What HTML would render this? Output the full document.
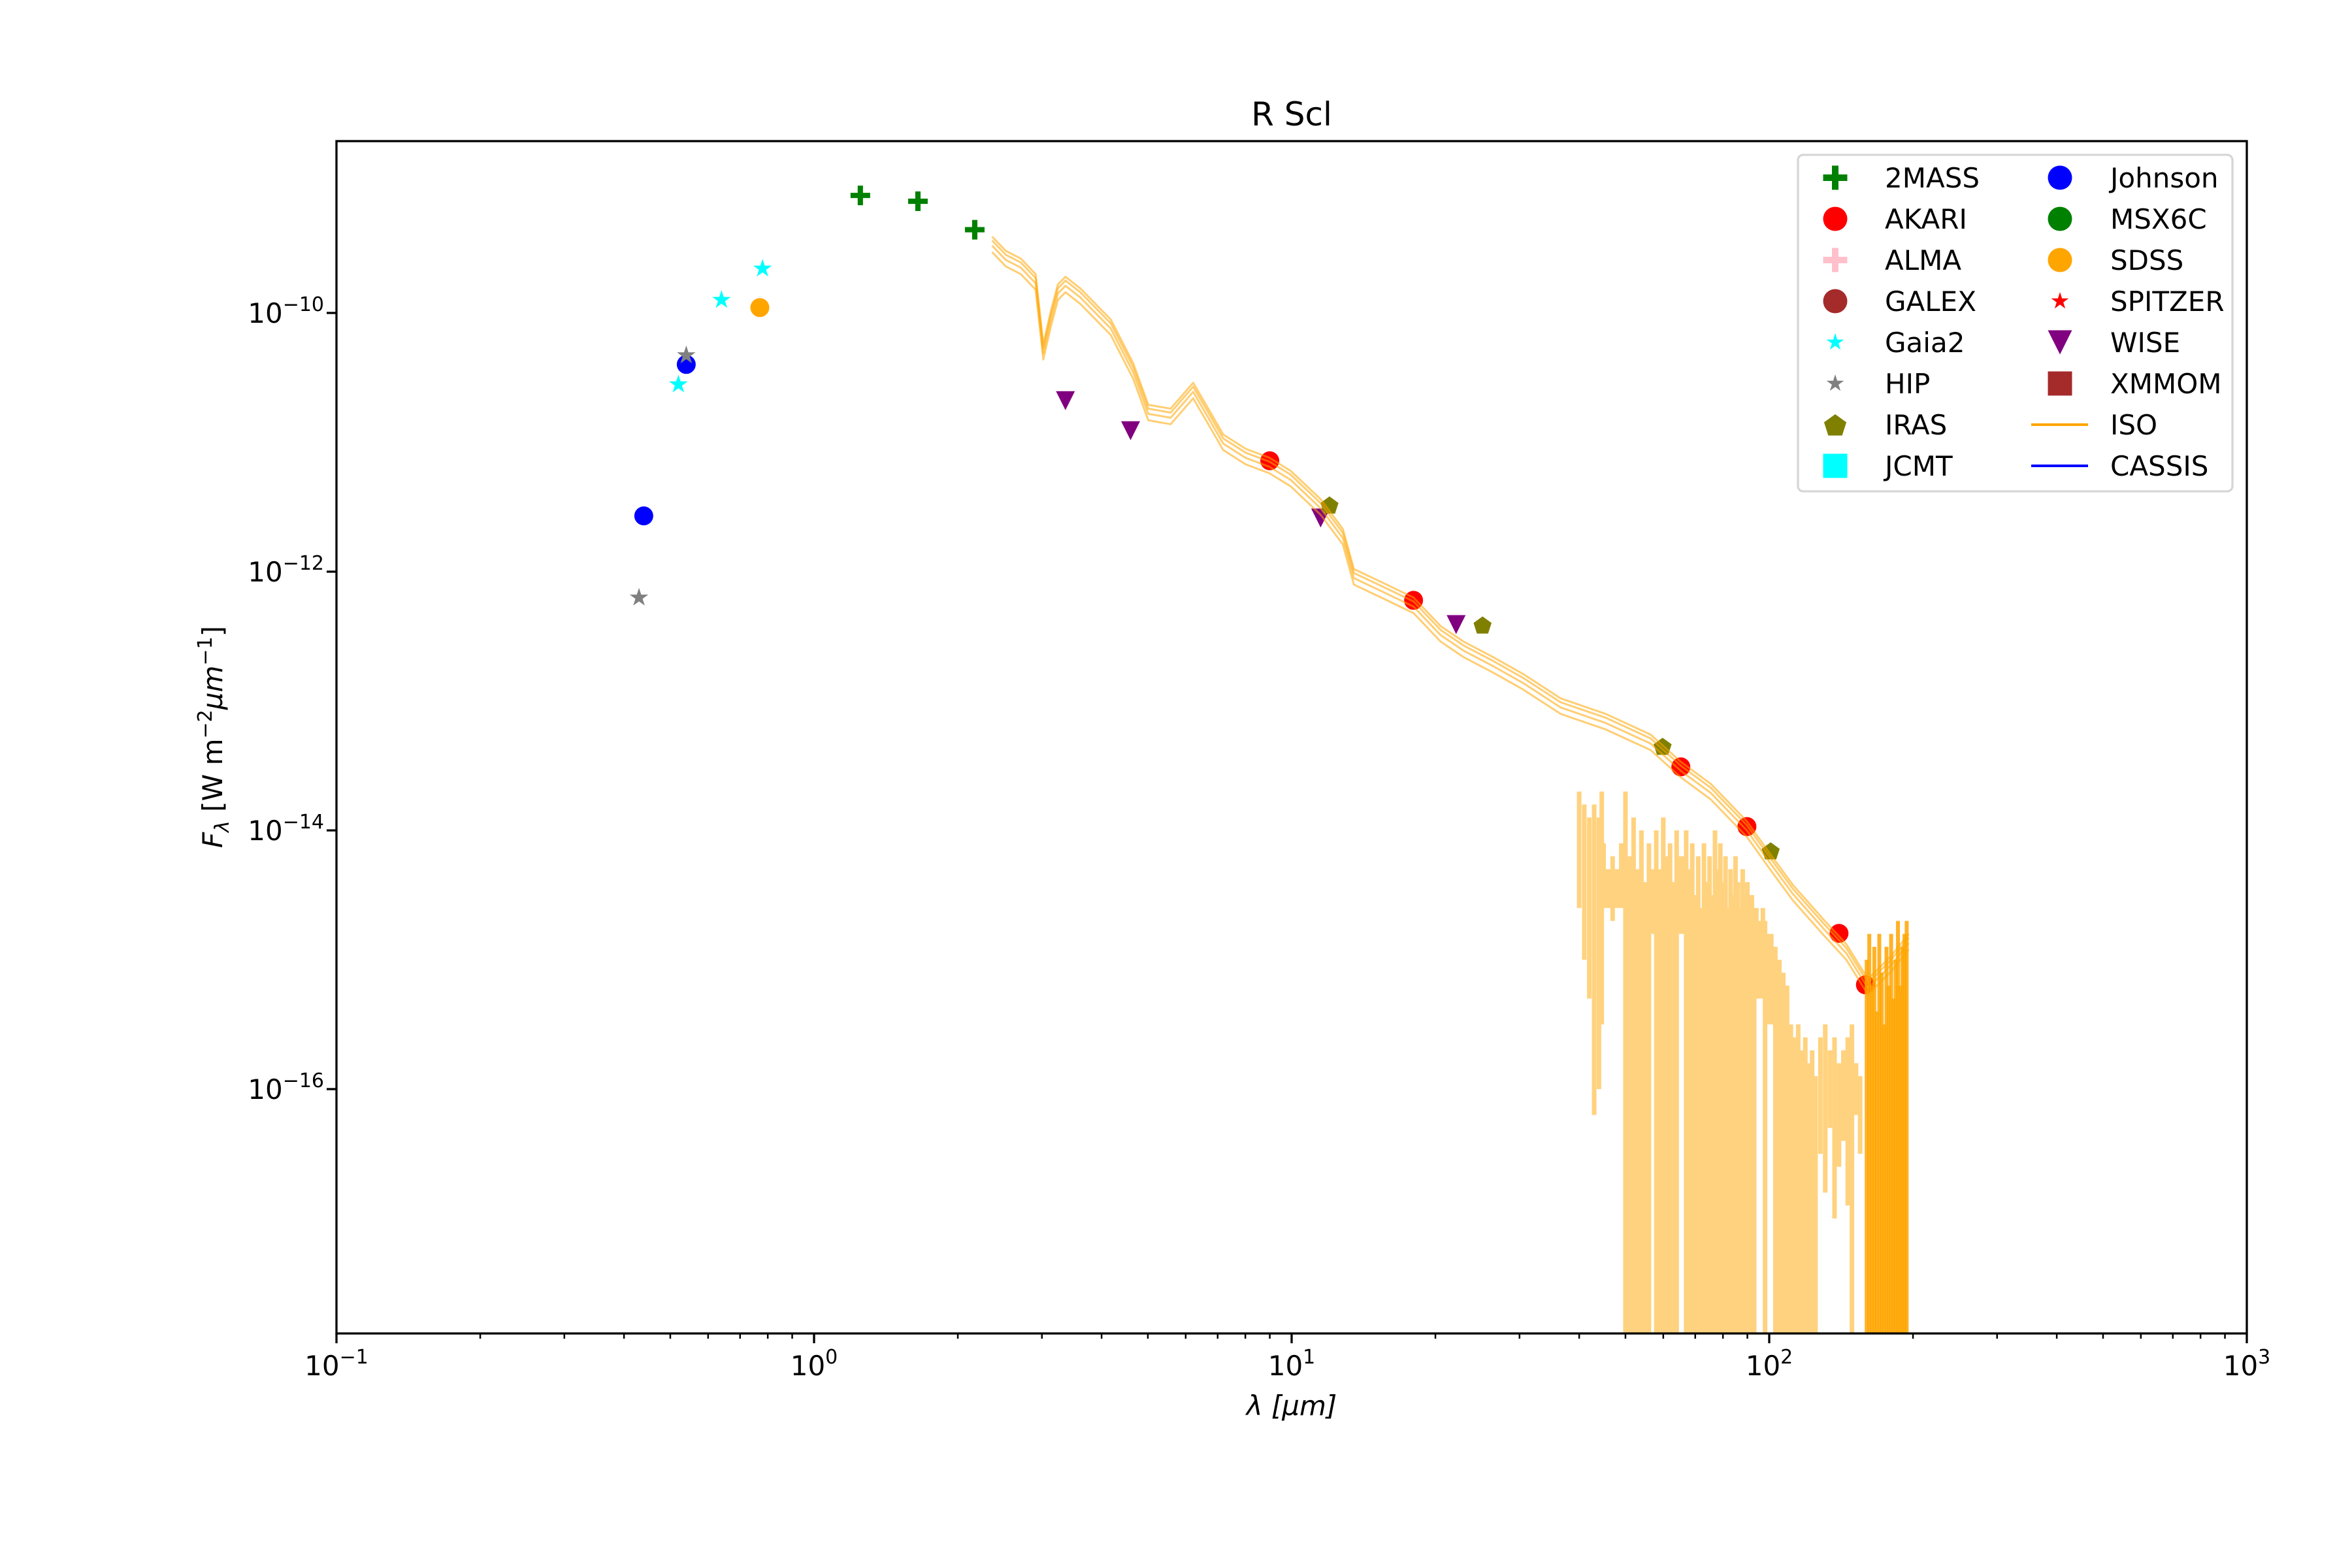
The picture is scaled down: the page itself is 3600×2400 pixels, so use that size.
<!DOCTYPE html>
<html><head><meta charset="utf-8"><style>
html,body{margin:0;padding:0;background:#fff;}
svg{display:block;font-family:"DejaVu Sans","Liberation Sans",sans-serif;}
</style></head><body>
<svg id="chart" width="3600" height="2400" viewBox="0 0 3600 2400" xmlns="http://www.w3.org/2000/svg">
<rect x="0" y="0" width="3600" height="2400" fill="#fff"/>
<g id="plot"></g>
<g id="axes"></g>
<text x="1977" y="192" font-size="50" text-anchor="middle">R Scl</text>
<text x="1977" y="2166" font-size="42" text-anchor="middle" font-style="italic">λ [μm]</text>
<text transform="translate(340,1128) rotate(-90)" font-size="42" text-anchor="middle"><tspan font-style="italic">F</tspan><tspan font-style="italic" font-size="30" dy="10">λ</tspan><tspan dy="-10"> [W m</tspan><tspan font-size="30" dy="-16">−2</tspan><tspan font-style="italic" dy="16">μm</tspan><tspan font-size="30" dy="-16">−1</tspan><tspan dy="16">]</tspan></text>
<g id="legend"></g>
</svg>
<script>
// ---- data ----
const twomassLam = [1.25, 1.65, 2.17];
const twomassFlux = [8.1e-10, 7.3e-10, 4.4e-10];
const johnsonLam = [0.44, 0.54];
const johnsonFlux = [2.7e-12, 4.0e-11];
const hipLam = [0.43, 0.54];
const hipFlux = [6.3e-13, 4.7e-11];
const gaiaLam = [0.52, 0.64, 0.78];
const gaiaFlux = [2.8e-11, 1.26e-10, 2.2e-10];
const sdssLam = [0.77];
const sdssFlux = [1.1e-10];
const wiseLam = [3.36, 4.6, 11.5, 22.1];
const wiseFlux = [2.1e-11, 1.23e-11, 2.6e-12, 3.9e-13];
const akariLam = [9.0, 18.0, 65.3, 89.8, 140, 159];
const akariFlux = [7.2e-12, 6.0e-13, 3.1e-14, 1.07e-14, 1.6e-15, 6.4e-16];
const irasLam = [12.0, 25.1, 59.8, 100.7];
const irasFlux = [3.3e-12, 3.9e-13, 4.5e-14, 7.0e-15];

const isoLam = [2.36,2.52,2.71,2.91,3.02,3.13,3.24,3.36,3.61,4.18,4.66,5.01,5.58,6.22,6.69,7.19,8.01,8.99,9.95,11.5,12.8,13.5,15.4,18.0,20.5,22.9,26.4,30.5,36.6,45.5,56.5,65.3,75.4,89.8,100.8,112,130,145,161,180,196];
const isoLogFlux = [-9.44,-9.55,-9.61,-9.73,-10.27,-10.02,-9.81,-9.75,-9.84,-10.08,-10.42,-10.74,-10.77,-10.57,-10.77,-10.97,-11.08,-11.15,-11.25,-11.47,-11.70,-12.01,-12.11,-12.23,-12.45,-12.57,-12.69,-12.82,-13.01,-13.13,-13.29,-13.50,-13.67,-13.96,-14.22,-14.45,-14.72,-14.91,-15.18,-15.00,-14.83];
const isoOffsets = [0.0, -0.04, -0.09, 0.03];

const spikeLam = [40,41,42,43,44,44.6,45,46,47,48,49,50,51,52,53,54,55,56,57,58,59,60,61,62,63,64,65,66,67,68,69,70,71,72,73,74,75,76,77,78,79,80,81,82,83,84,85,86,87,88,89,90,91,92,93,94,95,96,97,98,99,100,101,102,103,105,107,109,111,113,115,117,119,121,123,125,128,131,134,137,140,143,146,149,152,155];
const spikeTop = [-13.7,-13.8,-13.9,-13.8,-13.9,-13.7,-14.1,-14.3,-14.2,-14.3,-14.1,-13.7,-14.2,-13.9,-14.3,-14.0,-14.4,-14.1,-14.3,-14.0,-14.3,-13.9,-14.2,-14.1,-14.4,-14.0,-14.2,-14.2,-14.0,-14.3,-14.1,-14.5,-14.2,-14.6,-14.1,-14.4,-14.2,-14.5,-14.0,-14.3,-14.1,-14.4,-14.2,-14.6,-14.3,-14.5,-14.2,-14.4,-14.6,-14.3,-14.5,-14.4,-14.7,-14.5,-14.6,-14.6,-14.8,-14.7,-14.6,-14.7,-14.8,-14.9,-14.8,-14.9,-14.9,-15.0,-15.1,-15.2,-15.5,-15.6,-15.5,-15.7,-15.6,-15.8,-15.7,-15.9,-15.6,-15.5,-15.7,-15.6,-15.8,-15.7,-15.6,-15.5,-15.8,-15.9];
const spikeBot = [-14.6,-15.0,-15.3,-16.2,-16.0,-15.5,-14.6,-14.6,-14.7,-14.6,-14.6,-18,-18,-18,-18,-18,-18,-18,-14.8,-18,-18,-18,-18,-18,-18,-18,-14.8,-14.8,-18,-18,-18,-18,-18,-18,-18,-18,-18,-18,-18,-18,-18,-18,-18,-18,-18,-18,-18,-18,-18,-18,-18,-18,-18,-18,-18,-15.3,-15.3,-15.2,-15.3,-18,-15.5,-15.5,-15.4,-15.5,-18,-18,-18,-18,-18,-18,-18,-18,-18,-18,-18,-18,-16.5,-16.8,-16.3,-17.0,-16.6,-16.4,-16.9,-18,-16.2,-16.5];
const denseLam = [160,162,164,166,168,170,172,174,176,178,180,182,184,186,188,190,192,194];
const denseTop = [-15.0,-14.8,-15.2,-14.9,-15.4,-14.8,-15.1,-15.5,-14.9,-15.2,-14.8,-15.3,-15.0,-14.7,-15.2,-14.9,-14.8,-14.7];

const xTickExp = [-1, 0, 1, 2, 3];
const yTickExp = [-10, -12, -14, -16];

// ---- axes ----
const L = 515, R = 3439, T = 216, B = 2041;
function X(lam){ return L + (Math.log10(lam) + 1) * 731; }
function YL(lf){ return 479 + (-10 - lf) * 198; }
function Y(f){ return YL(Math.log10(f)); }
const NS = "http://www.w3.org/2000/svg";
function mk(tag, attrs, parent){ const e = document.createElementNS(NS, tag); for (const k in attrs) e.setAttribute(k, attrs[k]); parent.appendChild(e); return e; }
const plot = document.getElementById('plot');
const axes = document.getElementById('axes');
const legend = document.getElementById('legend');

const clip = mk('clipPath', {id:'clipax'}, plot);
mk('rect', {x:L, y:T, width:R-L, height:B-T}, clip);
const inner = mk('g', {'clip-path':'url(#clipax)'}, plot);



function starPts(cx, cy, r){
  let p = [];
  for (let k = 0; k < 10; k++){
    const a = (-90 + k*36) * Math.PI/180, rr = (k%2===0) ? r : r*0.382;
    p.push((cx + rr*Math.cos(a)).toFixed(1) + ',' + (cy + rr*Math.sin(a)).toFixed(1));
  }
  return p.join(' ');
}
function pentPts(cx, cy, r){
  let p = [];
  for (let k = 0; k < 5; k++){
    const a = (-90 + k*72) * Math.PI/180;
    p.push((cx + r*Math.cos(a)).toFixed(1) + ',' + (cy + r*Math.sin(a)).toFixed(1));
  }
  return p.join(' ');
}
function marker(type, cx, cy, s, color, parent){
  let e;
  if (type === 'circle') e = mk('circle', {cx:cx, cy:cy, r:s/2, fill:color}, parent);
  else if (type === 'plus'){
    const a = s/2, w = s*0.27;
    e = mk('path', {d:`M${cx-a},${cy-w/2}H${cx-w/2}V${cy-a}H${cx+w/2}V${cy-w/2}H${cx+a}V${cy+w/2}H${cx+w/2}V${cy+a}H${cx-w/2}V${cy+w/2}H${cx-a}Z`, fill:color}, parent);
  }
  else if (type === 'star') e = mk('polygon', {points:starPts(cx, cy, s/2), fill:color}, parent);
  else if (type === 'pent') e = mk('polygon', {points:pentPts(cx, cy+2, s/2), fill:color}, parent);
  else if (type === 'tri') e = mk('polygon', {points:`${cx-s/2},${cy-s/2} ${cx+s/2},${cy-s/2} ${cx},${cy+s/2}`, fill:color}, parent);
  else if (type === 'square') e = mk('rect', {x:cx-s/2, y:cy-s/2, width:s, height:s, fill:color}, parent);
  return e;
}
function series(name, lams, fluxes, type, size, color){
  for (let i = 0; i < lams.length; i++){
    const e = marker(type, X(lams[i]), Y(fluxes[i]), size, color, inner);
    
    
  }
}
series('twomass', twomassLam, twomassFlux, 'plus', 30, '#008000');
series('johnson', johnsonLam, johnsonFlux, 'circle', 29, '#0000ff');
series('hip', hipLam, hipFlux, 'star', 30, '#808080');
series('gaia2', gaiaLam, gaiaFlux, 'star', 30, '#00ffff');
series('sdss', sdssLam, sdssFlux, 'circle', 29, '#ffa500');
series('wise', wiseLam, wiseFlux, 'tri', 29, '#800080');
series('akari', akariLam, akariFlux, 'circle', 29, '#ff0000');
series('iras', irasLam, irasFlux, 'pent', 29, '#808000');

// ISO spikes (noisy far-IR)
for (let i = 0; i < spikeLam.length; i++){
  const e = mk('rect', {x:X(spikeLam[i])-3.5, y:YL(spikeTop[i]), width:7, height:YL(spikeBot[i])-YL(spikeTop[i]), fill:'#ffd27f'}, inner);
  
  
}
for (let i = 0; i < denseLam.length; i++){
  const e = mk('rect', {x:X(denseLam[i])-3, y:YL(denseTop[i]), width:6, height:YL(-18)-YL(denseTop[i]), fill:'#ffa500', 'fill-opacity':0.85}, inner);
  
  
}
// ISO main curves
for (let j = 0; j < isoOffsets.length; j++){
  let d = '';
  for (let i = 0; i < isoLam.length; i++){
    d += (i ? 'L' : 'M') + X(isoLam[i]).toFixed(1) + ',' + YL(isoLogFlux[i] + isoOffsets[j]).toFixed(1);
  }
  const e = mk('path', {d:d, fill:'none', stroke:'#ffa500', 'stroke-width':3, 'stroke-opacity':0.55, 'stroke-linejoin':'round'}, inner);
  
  
}

// frame
const frame = mk('rect', {x:L, y:T, width:R-L, height:B-T, fill:'none', stroke:'#000', 'stroke-width':3.3}, axes);



// x ticks
for (const ex of xTickExp){
  const x = L + (ex + 1) * 731;
  const t = mk('line', {x1:x, x2:x, y1:B, y2:B+15, stroke:'#000', 'stroke-width':3.3}, axes);
  
  
  const lb = mk('text', {x:x, y:2105, 'font-size':42, 'text-anchor':'middle'}, axes);
  
  
  lb.innerHTML = '10<tspan font-size="30" dy="-18">' + (ex < 0 ? '−' + (-ex) : ex) + '</tspan>';
  if (ex < 3){
    for (let m = 2; m <= 9; m++){
      const xm = X(Math.pow(10, ex) * m);
      const mt = mk('line', {x1:xm, x2:xm, y1:B, y2:B+8, stroke:'#000', 'stroke-width':2.5}, axes);
      
      
    }
  }
}
// y ticks
for (const ey of yTickExp){
  const y = YL(ey);
  const t = mk('line', {x1:L-15, x2:L, y1:y, y2:y, stroke:'#000', 'stroke-width':3.3}, axes);
  
  
  const lb = mk('text', {x:496, y:y+15, 'font-size':42, 'text-anchor':'end'}, axes);
  
  
  lb.innerHTML = '10<tspan font-size="30" dy="-18">−' + (-ey) + '</tspan>';
}

// legend
const legBox = mk('rect', {x:2752, y:237, width:665, height:515, rx:8, fill:'#fff', 'fill-opacity':0.8, stroke:'#d6d6d6', 'stroke-width':3.3}, legend);


const legNames = ['2MASS','AKARI','ALMA','GALEX','Gaia2','HIP','IRAS','JCMT','Johnson','MSX6C','SDSS','SPITZER','WISE','XMMOM','ISO','CASSIS'];
const legTypes = ['plus','circle','plus','circle','star','star','pent','square','circle','circle','circle','star','tri','square','line','line'];
const legColors = ['#008000','#ff0000','#ffc0cb','#a52a2a','#00ffff','#808080','#808000','#00ffff','#0000ff','#008000','#ffa500','#ff0000','#800080','#a52a2a','#ffa500','#0000ff'];
for (let i = 0; i < legNames.length; i++){
  const col = Math.floor(i / 8), row = i % 8;
  const cy = 272 + row * 63;
  const mx = col ? 3153 : 2809, tx = col ? 3230 : 2885;
  const g = mk('g', {}, legend);
  
  
  if (legTypes[i] === 'line'){
    mk('line', {x1:3109, x2:3196, y1:cy, y2:cy, stroke:legColors[i], 'stroke-width':4}, g);
  } else {
    const sz = legTypes[i] === 'star' ? 28 : (legTypes[i] === 'pent' ? 36 : 37);
    marker(legTypes[i], mx, cy, sz, legColors[i], g);
  }
  const t = mk('text', {x:tx, y:cy+15, 'font-size':42}, g);
  t.textContent = legNames[i];
}
</script>
</body></html>
